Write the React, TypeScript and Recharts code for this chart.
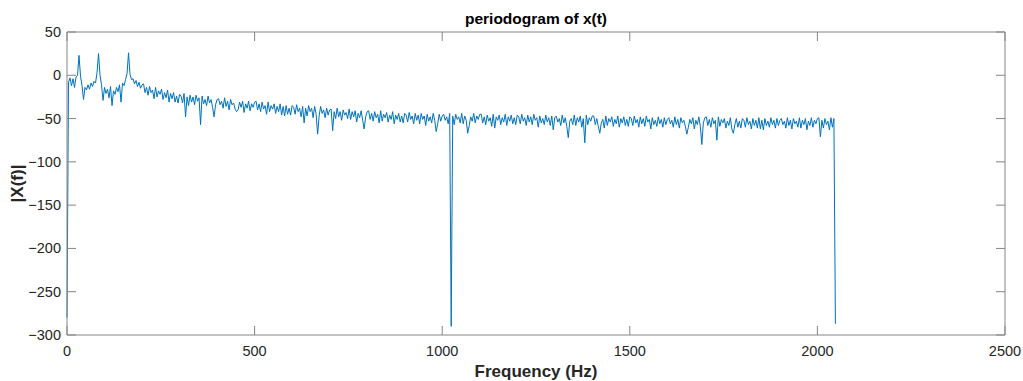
import { LineChart, Line, XAxis, YAxis, ReferenceLine } from "recharts";

const STEP_HZ = 4;

// 0 - 200 Hz, the three tones sit here
const LOW_BAND = [
  -280, -8, -3, -12, -4, -14, -2, 0, 23, -1,
  -12, -28, -14, -17, -11, -16, -9, -13, -7, -9,
  3, 25, 0, -11, -29, -14, -21, -16, -26, -13,
  -35, -18, -22, -14, -19, -11, -31, -9, -12, -5,
  2, 26, 1, -5, -4, -10, -6, -13, -8, -15,
  -11,
];

// noise floor, one row per 100 Hz
const ROW_STARTS = [
  204, 304, 404, 504, 604, 704, 804, 904, 1004, 1104,
  1204, 1304, 1404, 1504, 1604, 1704, 1804, 1904, 2004,
];
const ROW_VALUES = [
  [-10, -20, -14, -23, -13, -20, -17, -27, -14, -25, -18, -22, -16, -28, -20, -26, -17, -31, -21, -27, -20, -31, -24, -32, -22],
  [-24, -32, -21, -48, -25, -35, -23, -31, -25, -34, -23, -30, -26, -57, -24, -33, -28, -35, -24, -32, -28, -37, -48, -34, -28],
  [-27, -34, -30, -38, -26, -36, -30, -40, -28, -34, -32, -39, -42, -40, -31, -37, -30, -43, -33, -38, -30, -41, -33, -37, -31],
  [-30, -40, -33, -42, -31, -39, -35, -45, -31, -42, -35, -39, -33, -44, -36, -42, -33, -46, -36, -47, -35, -45, -38, -46, -35],
  [-37, -45, -34, -42, -38, -48, -36, -55, -38, -47, -35, -42, -38, -49, -36, -45, -68, -47, -36, -44, -40, -49, -38, -46, -40],
  [-39, -64, -42, -50, -38, -48, -42, -52, -40, -46, -43, -50, -39, -51, -42, -48, -41, -54, -44, -49, -41, -52, -62, -48, -42],
  [-41, -51, -44, -53, -42, -49, -45, -55, -41, -53, -45, -49, -43, -54, -46, -51, -42, -56, -46, -51, -44, -54, -47, -55, -44],
  [-46, -54, -43, -51, -47, -56, -44, -52, -46, -56, -44, -51, -47, -58, -45, -53, -48, -55, -44, -52, -65, -56, -45, -53, -47],
  [-45, -52, -48, -56, -44, -290, -47, -57, -45, -51, -48, -55, -44, -56, -47, -52, -67, -58, -48, -53, -44, -55, -47, -51, -45],
  [-45, -55, -48, -57, -46, -53, -49, -59, -45, -61, -48, -52, -46, -57, -49, -54, -45, -58, -48, -53, -46, -56, -49, -57, -46],
  [-48, -56, -45, -53, -49, -58, -46, -54, -48, -57, -45, -52, -49, -60, -47, -55, -50, -57, -46, -54, -49, -58, -47, -63, -49],
  [-47, -54, -50, -58, -46, -55, -49, -59, -72, -53, -50, -57, -46, -58, -49, -54, -47, -60, -50, -78, -46, -57, -49, -53, -47],
  [-47, -57, -50, -59, -67, -55, -51, -61, -47, -58, -50, -54, -48, -59, -51, -56, -47, -60, -50, -55, -48, -58, -51, -59, -48],
  [-50, -58, -47, -55, -51, -60, -48, -56, -50, -59, -47, -54, -51, -62, -49, -57, -52, -59, -48, -56, -51, -60, -49, -57, -51],
  [-49, -56, -52, -60, -48, -57, -51, -61, -49, -55, -52, -59, -68, -60, -51, -56, -49, -62, -52, -57, -48, -59, -80, -55, -49],
  [-48, -58, -51, -60, -49, -56, -52, -75, -48, -59, -51, -55, -50, -61, -53, -58, -49, -62, -67, -57, -50, -60, -53, -61, -50],
  [-52, -60, -49, -57, -53, -62, -50, -58, -52, -61, -49, -62, -52, -63, -50, -58, -53, -60, -49, -57, -52, -61, -50, -58, -52],
  [-50, -57, -53, -61, -49, -58, -52, -62, -50, -56, -53, -60, -49, -61, -52, -57, -50, -63, -53, -58, -49, -60, -52, -56, -50],
  [-49, -71, -52, -61, -50, -57, -53, -63, -49, -60, -50, -287],
];

const X_TICKS = [0, 500, 1000, 1500, 2000, 2500];
const Y_TICKS = [-300, -250, -200, -150, -100, -50, 0, 50];

const data: { f: number; v: number }[] = [];
LOW_BAND.forEach((v, i) => data.push({ f: i * STEP_HZ, v }));
ROW_VALUES.forEach((row, r) =>
  row.forEach((v, i) => data.push({ f: ROW_STARTS[r] + i * STEP_HZ, v }))
);

const W = 1023;
const H = 381;
const PLOT_LEFT = 67;
const PLOT_RIGHT = 1005;
const PLOT_TOP = 32;
const PLOT_BOTTOM = 335;
const TICK_LEN = 9;
const AXIS_COLOR = "#858585";
const TEXT_COLOR = "#262626";
const FONT = "'Liberation Sans', Arial, Helvetica, sans-serif";

const fmt = (v: number) => String(v).replace("-", "\u2212");

function XTick(props: any) {
  const { x, payload } = props;
  return (
    <g>
      <line x1={x} y1={PLOT_BOTTOM} x2={x} y2={PLOT_BOTTOM - TICK_LEN} stroke={AXIS_COLOR} />
      <line x1={x} y1={PLOT_TOP} x2={x} y2={PLOT_TOP + TICK_LEN} stroke={AXIS_COLOR} />
      <text x={x} y={PLOT_BOTTOM + 21} textAnchor="middle" fill={TEXT_COLOR} fontSize={14.5} fontFamily={FONT}>
        {fmt(payload.value)}
      </text>
    </g>
  );
}

function YTick(props: any) {
  const { y, payload } = props;
  return (
    <g>
      <line x1={PLOT_LEFT} y1={y} x2={PLOT_LEFT + TICK_LEN} y2={y} stroke={AXIS_COLOR} />
      <line x1={PLOT_RIGHT} y1={y} x2={PLOT_RIGHT - TICK_LEN} y2={y} stroke={AXIS_COLOR} />
      <text x={PLOT_LEFT - 6} y={y + 5} textAnchor="end" fill={TEXT_COLOR} fontSize={14.5} fontFamily={FONT}>
        {fmt(payload.value)}
      </text>
    </g>
  );
}

export default function App() {
  return (
    <div style={{ position: "absolute", left: 0, top: 0, width: W, height: H, background: "#fff" }}>
      <LineChart
        width={W}
        height={H}
        data={data}
        margin={{ top: PLOT_TOP, right: W - PLOT_RIGHT, bottom: 0, left: 0 }}
      >
        <XAxis
          dataKey="f"
          type="number"
          domain={[0, 2500]}
          ticks={X_TICKS}
          interval={0}
          height={H - PLOT_BOTTOM}
          tickSize={0}
          tickMargin={0}
          tickLine={false}
          axisLine={{ stroke: AXIS_COLOR }}
          tick={<XTick />}
        />
        <YAxis
          type="number"
          domain={[-300, 50]}
          ticks={Y_TICKS}
          interval={0}
          width={PLOT_LEFT}
          tickSize={0}
          tickMargin={0}
          tickLine={false}
          axisLine={{ stroke: AXIS_COLOR }}
          tick={<YTick />}
        />
        <ReferenceLine y={50} stroke={AXIS_COLOR} />
        <ReferenceLine x={2500} stroke={AXIS_COLOR} />
        <Line
          dataKey="v"
          type="linear"
          stroke="#0072BD"
          strokeWidth={1}
          dot={false}
          isAnimationActive={false}
        />
      </LineChart>
      <svg
        width={W}
        height={H}
        style={{ position: "absolute", left: 0, top: 0, pointerEvents: "none" }}
      >
        <text x={(PLOT_LEFT + PLOT_RIGHT) / 2} y={23.5} textAnchor="middle" fontWeight="bold" fontSize={15.5} fill="#000" fontFamily={FONT}>
          periodogram of x(t)
        </text>
        <text x={(PLOT_LEFT + PLOT_RIGHT) / 2} y={377} textAnchor="middle" fontWeight="bold" fontSize={17} fill={TEXT_COLOR} fontFamily={FONT}>
          Frequency (Hz)
        </text>
        <text
          x={0}
          y={0}
          transform={`translate(23, ${(PLOT_TOP + PLOT_BOTTOM) / 2}) rotate(-90)`}
          textAnchor="middle"
          fontWeight="bold"
          fontSize={17}
          fill={TEXT_COLOR}
          fontFamily={FONT}
        >
          |X(f)|
        </text>
      </svg>
    </div>
  );
}
